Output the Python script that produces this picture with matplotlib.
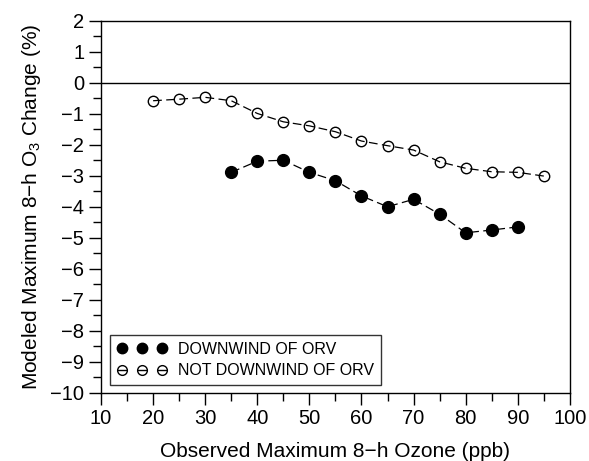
import numpy as np
import matplotlib
matplotlib.use("Agg")
import matplotlib.pyplot as plt
from matplotlib.lines import Line2D
from matplotlib.legend_handler import HandlerTuple
from matplotlib.ticker import MultipleLocator

plt.rcParams['font.family'] = ['Liberation Sans', 'DejaVu Sans']
plt.rcParams['mathtext.default'] = 'regular'

# observed max 8-h ozone bins (ppb)
x_down = [35, 40, 45, 50, 55, 60, 65, 70, 75, 80, 85, 90]
y_down = [-2.89, -2.53, -2.50, -2.89, -3.16, -3.65, -4.00, -3.76, -4.24, -4.84, -4.75, -4.65]

x_notdown = [20, 25, 30, 35, 40, 45, 50, 55, 60, 65, 70, 75, 80, 85, 90, 95]
y_notdown = [-0.58, -0.53, -0.47, -0.58, -0.99, -1.26, -1.39, -1.58, -1.88, -2.03,
             -2.17, -2.55, -2.76, -2.87, -2.89, -3.01]

labels = ["DOWNWIND OF ORV", "NOT DOWNWIND OF ORV"]

fig = plt.figure(figsize=(5.89, 4.61), dpi=100)
ax = fig.add_axes([0.1715, 0.148, 0.796, 0.807])

dash = (0, (7, 3.5))
ax.plot(x_down, y_down, linestyle=dash, color='black', lw=0.9,
        marker='o', markersize=8.5, markerfacecolor='black',
        markeredgecolor='black')
ax.plot(x_notdown, y_notdown, linestyle=dash, color='black', lw=0.9,
        marker='o', markersize=7.5, markerfacecolor='none',
        markeredgecolor='black', markeredgewidth=1.0)

ax.axhline(0, color='black', lw=1)

ax.set_xlim(10, 100)
ax.set_ylim(-10, 2)
ax.xaxis.set_major_locator(MultipleLocator(10))
ax.xaxis.set_minor_locator(MultipleLocator(5))
ax.yaxis.set_major_locator(MultipleLocator(1))
ax.yaxis.set_minor_locator(MultipleLocator(0.5))
ax.tick_params(which='major', direction='out', length=8.5, width=1, labelsize=14.5, pad=3.5)
ax.tick_params(which='minor', direction='out', length=5.5, width=1)
ax.tick_params(top=False, right=False)
for s in ax.spines.values():
    s.set_linewidth(1)

ax.set_xlabel("Observed Maximum 8\u2212h Ozone (ppb)", fontsize=15, labelpad=10)
ax.set_ylabel("Modeled Maximum 8\u2212h O$_3$ Change (%)", fontsize=15, labelpad=5)

# legend handles: circles with a short bar through each one
h_down = Line2D([], [], linestyle='none', marker='o', markersize=7.5,
                markerfacecolor='black', markeredgecolor='black')
h_open = Line2D([], [], linestyle='none', marker='o', markersize=7,
                markerfacecolor='none', markeredgecolor='black', markeredgewidth=1.0)
h_bar = Line2D([], [], linestyle='none', marker='_', markersize=7,
               markeredgecolor='black', markeredgewidth=1.0)

leg = ax.legend([h_down, (h_open, h_bar)], labels, loc='lower left',
                bbox_to_anchor=(0.019, 0.02), numpoints=3,
                handler_map={tuple: HandlerTuple(ndivide=1, pad=0)},
                handlelength=3.13, fontsize=11.5, frameon=True, fancybox=False,
                edgecolor='black', borderpad=0.45, handletextpad=0.7,
                labelspacing=0.4, borderaxespad=0)
leg.get_frame().set_linewidth(1)

fig.savefig("out.png", dpi=100)
